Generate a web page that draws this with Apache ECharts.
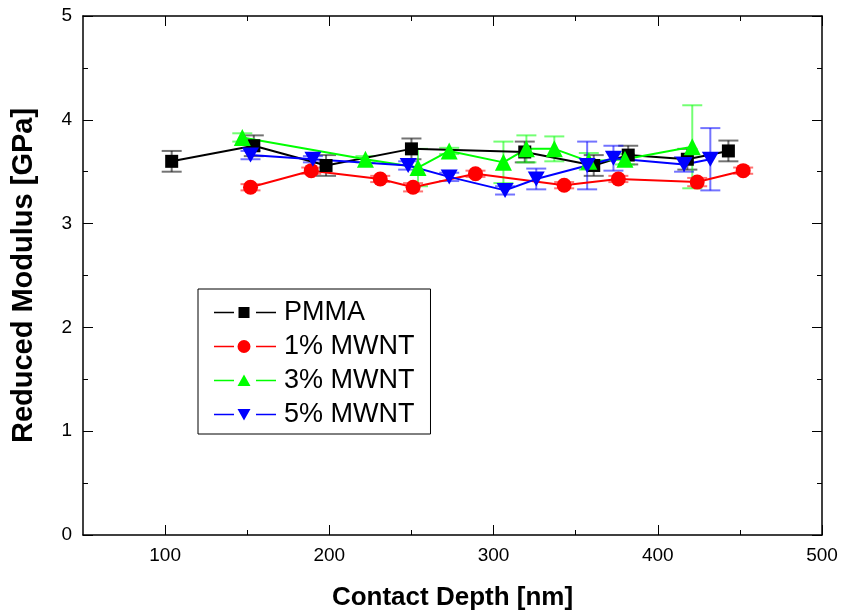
<!DOCTYPE html>
<html>
<head>
<meta charset="utf-8">
<script src="https://cdn.jsdelivr.net/npm/echarts@6/dist/echarts.min.js"></script>
<style>
html, body { margin: 0; padding: 0; background: #fff; }
#chart { width: 841px; height: 613px; }
</style>
</head>
<body>
<div id="chart"></div>
<script>
// values
var pmmaX = [104, 154, 198, 250, 319, 361, 382, 418, 443];
var pmmaY = [3.60, 3.75, 3.56, 3.72, 3.69, 3.56, 3.66, 3.62, 3.70];
var pmmaErr = [0.10, 0.10, 0.10, 0.10, 0.10, 0.10, 0.09, 0.10, 0.10];

var mwnt1X = [152, 189, 231, 251, 289, 343, 376, 424, 452];
var mwnt1Y = [3.35, 3.51, 3.43, 3.35, 3.48, 3.37, 3.43, 3.40, 3.51];
var mwnt1Err = [0.03, 0.03, 0.03, 0.04, 0.03, 0.03, 0.03, 0.04, 0.03];

var mwnt3X = [147, 222, 254, 273, 306, 320, 337, 358, 380, 421];
var mwnt3Y = [3.83, 3.62, 3.54, 3.70, 3.59, 3.72, 3.72, 3.60, 3.62, 3.74];
var mwnt3Err = [0.04, 0.03, 0.18, 0.03, 0.20, 0.13, 0.12, 0.08, 0.05, 0.40];

var mwnt5X = [152, 190, 248, 273, 307, 326, 357, 373, 416, 432];
var mwnt5Y = [3.66, 3.62, 3.56, 3.45, 3.32, 3.43, 3.56, 3.63, 3.57, 3.62];
var mwnt5Err = [0.04, 0.03, 0.04, 0.04, 0.04, 0.10, 0.23, 0.12, 0.07, 0.30];

var xMajorTicks = [100, 200, 300, 400, 500];
var xMinorTicks = [150, 250, 350, 450];

var names = ['PMMA', '1% MWNT', '3% MWNT', '5% MWNT'];
var colors = ['#000000', '#ff0000', '#00ff00', '#0000ff'];
var symbols = ['rect', 'circle', 'triangle', 'path://M0,0 L10,0 L5,9 Z'];
var symbolSizes = [13, 15, 17, [17, 15]];

// legend icons: line - marker - line, in a 62x14 box
var legendIcons = [
  'path://M0,0 M62,14 M0,6.2 L20,6.2 L20,7.8 L0,7.8 Z M24.5,1.5 L35.5,1.5 L35.5,12.5 L24.5,12.5 Z M42,6.2 L62,6.2 L62,7.8 L42,7.8 Z',
  'path://M0,0 M62,14 M0,6.2 L20,6.2 L20,7.8 L0,7.8 Z M23.5,7 A6.5,6.5 0 1,1 36.5,7 A6.5,6.5 0 1,1 23.5,7 Z M42,6.2 L62,6.2 L62,7.8 L42,7.8 Z',
  'path://M0,0 M62,14 M0,6.2 L20,6.2 L20,7.8 L0,7.8 Z M30,1 L36.5,12.5 L23.5,12.5 Z M42,6.2 L62,6.2 L62,7.8 L42,7.8 Z',
  'path://M0,0 M62,14 M0,6.2 L20,6.2 L20,7.8 L0,7.8 Z M23.5,1.5 L36.5,1.5 L30,13 Z M42,6.2 L62,6.2 L62,7.8 L42,7.8 Z'
];

var groups = [
  [pmmaX, pmmaY, pmmaErr],
  [mwnt1X, mwnt1Y, mwnt1Err],
  [mwnt3X, mwnt3Y, mwnt3Err],
  [mwnt5X, mwnt5Y, mwnt5Err]
];

var chart = echarts.init(document.getElementById('chart'), null, {renderer: 'canvas'});

var font = 'Liberation Sans, Arial, sans-serif';

function errorSeries(i) {
  var g = groups[i];
  var data = g[0].map(function (x, k) { return [x, g[1][k] - g[2][k], g[1][k] + g[2][k]]; });
  return {
    type: 'custom',
    name: names[i] + ' err',
    z: 1,
    silent: true,
    data: data,
    renderItem: function (params, api) {
      var lo = api.coord([api.value(0), api.value(1)]);
      var hi = api.coord([api.value(0), api.value(2)]);
      var hw = 10;
      var st = {stroke: colors[i], lineWidth: 2, opacity: 0.55};
      return {
        type: 'group',
        children: [
          {type: 'line', shape: {x1: lo[0], y1: lo[1], x2: hi[0], y2: hi[1]}, style: st},
          {type: 'line', shape: {x1: lo[0] - hw, y1: lo[1], x2: lo[0] + hw, y2: lo[1]}, style: st},
          {type: 'line', shape: {x1: hi[0] - hw, y1: hi[1], x2: hi[0] + hw, y2: hi[1]}, style: st}
        ]
      };
    }
  };
}

function lineSeries(i) {
  var g = groups[i];
  return {
    type: 'line',
    name: names[i],
    z: 3,
    data: g[0].map(function (x, k) { return [x, g[1][k]]; }),
    symbol: symbols[i],
    symbolSize: symbolSizes[i],
    showAllSymbol: true,
    itemStyle: {color: colors[i]},
    lineStyle: {color: colors[i], width: 2}
  };
}

var series = [];
for (var i = 0; i < 4; i++) series.push(errorSeries(i));
for (var j = 0; j < 4; j++) series.push(lineSeries(j));

function xAxisBase(pos, ticks, len, showLine) {
  return {
    type: 'value',
    position: pos,
    min: 50, max: 500, interval: 50,
    axisLine: {show: showLine, onZero: false, lineStyle: {color: '#000', width: 1.5}},
    axisTick: {show: true, inside: true, length: len, customValues: ticks, lineStyle: {color: '#000'}},
    axisLabel: {show: false},
    splitLine: {show: false}
  };
}

var xMain = xAxisBase('bottom', xMajorTicks, 10, true);
xMain.name = 'Contact Depth [nm]';
xMain.nameLocation = 'middle';
xMain.nameGap = 50;
xMain.nameTextStyle = {fontFamily: font, fontSize: 26, fontWeight: 'bold', color: '#000'};
xMain.axisLabel = {show: true, customValues: xMajorTicks, fontFamily: font, fontSize: 19, color: '#000', margin: 11};

var option = {
  animation: false,
  grid: {left: 83, right: 19, top: 16, bottom: 78, outerBoundsMode: 'none', containLabel: false},
  legend: {
    data: names.map(function (n, k) { return {name: n, icon: legendIcons[k]}; }),
    orient: 'vertical',
    left: 198,
    top: 289,
    padding: [10, 16, 6, 16],
    itemGap: 7,
    itemWidth: 62,
    itemHeight: 14,
    borderColor: '#000',
    borderWidth: 1,
    textStyle: {fontFamily: font, fontSize: 27, lineHeight: 27, color: '#000', padding: [0, 0, 0, 3]}
  },
  xAxis: [
    xMain,
    xAxisBase('bottom', xMinorTicks, 5, false),
    xAxisBase('top', xMajorTicks, 10, true),
    xAxisBase('top', xMinorTicks, 5, false)
  ],
  yAxis: [{
    type: 'value',
    min: 0, max: 5, interval: 1,
    name: 'Reduced Modulus [GPa]',
    nameLocation: 'middle',
    nameGap: 45,
    nameTextStyle: {fontFamily: font, fontSize: 29, fontWeight: 'bold', color: '#000'},
    axisLine: {show: true, onZero: false, lineStyle: {color: '#000', width: 1.5}},
    axisTick: {show: true, inside: true, length: 10, lineStyle: {color: '#000'}},
    minorTick: {show: true, splitNumber: 2, length: 5, lineStyle: {color: '#000'}},
    axisLabel: {fontFamily: font, fontSize: 19, color: '#000', margin: 11},
    splitLine: {show: false}
  }, {
    type: 'value',
    position: 'right',
    min: 0, max: 5, interval: 1,
    axisLine: {show: true, onZero: false, lineStyle: {color: '#000', width: 1.5}},
    axisTick: {show: true, inside: true, length: 10, lineStyle: {color: '#000'}},
    minorTick: {show: true, splitNumber: 2, length: 5, lineStyle: {color: '#000'}},
    axisLabel: {show: false},
    splitLine: {show: false}
  }],
  series: series
};

chart.setOption(option);
</script>
</body>
</html>
